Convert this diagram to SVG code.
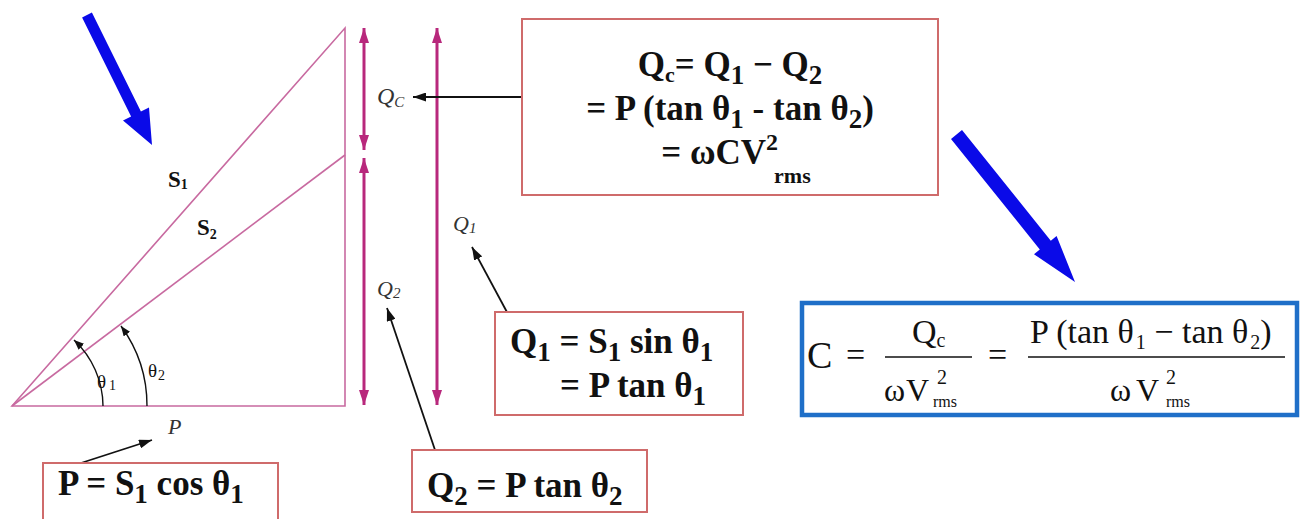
<svg xmlns="http://www.w3.org/2000/svg" width="1303" height="519" viewBox="0 0 1303 519">
<style>
.b{font-family:"Liberation Serif",serif;font-weight:700;fill:#111}
.r{font-family:"Liberation Serif",serif;fill:#111}
.i{font-family:"Liberation Serif",serif;font-style:italic;fill:#333}
.box{fill:#fff;stroke:#cf6b6b;stroke-width:2}
.tri{fill:none;stroke:#c86aa0;stroke-width:1.6}
.mag{stroke:#b8287c;stroke-width:3;fill:none;marker-start:url(#mh);marker-end:url(#mh)}
.ptr{stroke:#111;stroke-width:1.8;fill:none;marker-end:url(#ah)}
.arc{stroke:#111;stroke-width:1.4;fill:none;marker-end:url(#ah2)}
.bar{stroke:#111;stroke-width:1.6}
.blue{fill:#0a0ae8}
</style>
<defs>
<marker id="mh" markerWidth="15" markerHeight="10" refX="15" refY="5" orient="auto-start-reverse" markerUnits="userSpaceOnUse"><path d="M0,0 L15,5 L0,10 z" fill="#b8287c"/></marker>
<marker id="ah" markerWidth="13" markerHeight="9" refX="13" refY="4.5" orient="auto" markerUnits="userSpaceOnUse"><path d="M0,0 L13,4.5 L0,9 z" fill="#111"/></marker>
<marker id="ah2" markerWidth="10" markerHeight="8" refX="10" refY="4" orient="auto" markerUnits="userSpaceOnUse"><path d="M0,0 L10,4 L0,8 z" fill="#111"/></marker>
</defs>
<rect width="1303" height="519" fill="#fff"/>

<g id="blue-arrow-1"><polygon class="blue" points="91.9,12.5 140.9,111.5 149,107.5 152,145 123,120.5 131.1,116.5 82.1,17.5"/></g>
<g id="blue-arrow-2"><polygon class="blue" points="962,130.1 1050.8,240.7 1056.6,236 1075,282 1034,254.2 1039.8,249.5 951,138.9"/></g>

<g id="power-triangle">
<polygon class="tri" points="12,406 345,28 345,406"/>
<line class="tri" x1="12" y1="406" x2="345" y2="155"/>
<text class="b" x="168" y="187" font-size="23">S<tspan font-size="14" dy="2">1</tspan></text>
<text class="b" x="197" y="235" font-size="23">S<tspan font-size="14" dy="4">2</tspan></text>
<text class="r" x="97" y="388" font-size="19">θ<tspan font-size="14" dx="3" dy="2">1</tspan></text>
<text class="r" x="148" y="377" font-size="19">θ<tspan font-size="14" dx="1" dy="3">2</tspan></text>
<text class="i" x="168" y="434" font-size="22">P</text>
</g>

<g id="labels">
<text class="i" x="377" y="104" font-size="24">Q<tspan font-size="15" dy="3">C</tspan></text>
<text class="i" x="453" y="231" font-size="22">Q<tspan font-size="15" dy="2">1</tspan></text>
<text class="i" x="377" y="296" font-size="22">Q<tspan font-size="15" dy="2">2</tspan></text>
</g>

<g id="connectors">
<line class="mag" x1="364" y1="28" x2="364" y2="150"/>
<line class="mag" x1="364" y1="158" x2="364" y2="405"/>
<line class="mag" x1="437" y1="28" x2="437" y2="405"/>
<path class="arc" d="M103,406 A91,91 0 0 0 74,340"/>
<path class="arc" d="M147,406 A135,135 0 0 0 121,326"/>
<line class="ptr" x1="522" y1="97" x2="413" y2="97"/>
<line class="ptr" x1="508" y1="314" x2="472" y2="247"/>
<line class="ptr" x1="435" y1="450" x2="387" y2="308"/>
<line class="ptr" x1="81" y1="463" x2="152" y2="440"/>
</g>

<g id="box-qc">
<rect class="box" x="522" y="19" width="416" height="176"/>
<text class="b" x="730" y="76" font-size="35" text-anchor="middle">Q<tspan font-size="22" dy="6">c</tspan><tspan dy="-6">= Q</tspan><tspan font-size="27" dy="8">1</tspan><tspan dy="-8"> − Q</tspan><tspan font-size="27" dy="8">2</tspan></text>
<text class="b" x="730" y="120" font-size="35" text-anchor="middle">= P (tan θ<tspan font-size="27" dy="8">1</tspan><tspan dy="-8"> - tan θ</tspan><tspan font-size="27" dy="8">2</tspan><tspan dy="-8">)</tspan></text>
<text class="b" x="736" y="164" font-size="35" text-anchor="middle">= ωCV<tspan font-size="24" dy="-14">2</tspan><tspan font-size="22" dx="-4" dy="33">rms</tspan></text>
</g>

<g id="box-q1">
<rect class="box" x="495" y="312" width="248" height="103"/>
<text class="b" x="510" y="353" font-size="35">Q<tspan font-size="27" dy="8">1</tspan><tspan dy="-8"> = S</tspan><tspan font-size="27" dy="8">1</tspan><tspan dy="-8"> sin θ</tspan><tspan font-size="27" dy="8">1</tspan></text>
<text class="b" x="560" y="397" font-size="35">= P tan θ<tspan font-size="27" dy="8">1</tspan></text>
</g>

<g id="box-q2">
<rect class="box" x="412" y="450" width="235" height="62"/>
<text class="b" x="427" y="497" font-size="35">Q<tspan font-size="27" dy="8">2</tspan><tspan dy="-8"> = P tan θ</tspan><tspan font-size="27" dy="8">2</tspan></text>
</g>

<g id="box-p">
<rect class="box" x="43" y="463" width="235" height="70"/>
<text class="b" x="58" y="495" font-size="35">P = S<tspan font-size="27" dy="8">1</tspan><tspan dy="-8"> cos θ</tspan><tspan font-size="27" dy="8">1</tspan></text>
</g>

<g id="box-c">
<rect x="802" y="303" width="495" height="112" fill="#fff" stroke="#1f6fc8" stroke-width="4.5"/>
<text class="r" x="807" y="368" font-size="38">C</text>
<text class="r" x="846" y="366" font-size="34">=</text>
<text class="r" x="912" y="343" font-size="34">Q<tspan font-size="20" dy="4">c</tspan></text>
<line class="bar" x1="885" y1="357" x2="972" y2="357"/>
<text class="r" x="884" y="401" font-size="32">ω</text>
<text class="r" x="906" y="401" font-size="32">V</text>
<text class="r" x="937" y="384" font-size="20">2</text>
<text class="r" x="933" y="407" font-size="16">rms</text>
<text class="r" x="988" y="366" font-size="34">=</text>
<text class="r" x="1030" y="343" font-size="34">P (tan θ<tspan font-size="20" dx="2" dy="6">1</tspan><tspan dy="-6"> − tan θ</tspan><tspan font-size="20" dx="2" dy="6">2</tspan><tspan dy="-6">)</tspan></text>
<line class="bar" x1="1028" y1="357" x2="1285" y2="357"/>
<text class="r" x="1110" y="401" font-size="32">ω</text>
<text class="r" x="1136" y="401" font-size="32">V</text>
<text class="r" x="1166" y="384" font-size="20">2</text>
<text class="r" x="1166" y="407" font-size="16">rms</text>
</g>
</svg>
